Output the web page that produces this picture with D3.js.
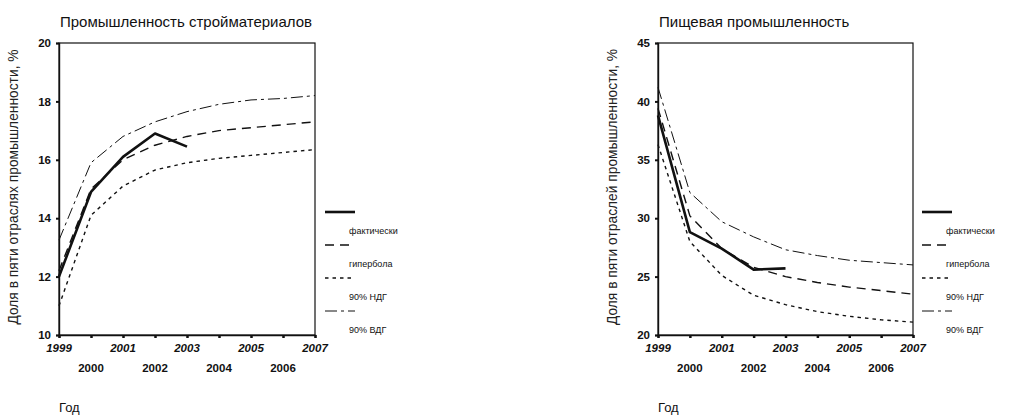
<!DOCTYPE html>
<html>
<head>
<meta charset="utf-8">
<script src="https://cdn.jsdelivr.net/npm/d3@7"></script>
<style>
  html, body { margin: 0; padding: 0; background: #fff; }
  svg { display: block; font-family: "Liberation Sans", Arial, sans-serif; }
</style>
</head>
<body>
<svg id="chart" width="1021" height="415"></svg>
<script>
// Years on the horizontal axis
const years = [1999, 2000, 2001, 2002, 2003, 2004, 2005, 2006, 2007];
const actualYears = [1999, 2000, 2001, 2002, 2003];

// Building materials industry, share %
const buildActual = [12.0, 14.9, 16.1, 16.9, 16.45];
const buildHyper  = [12.2, 15.0, 16.0, 16.5, 16.8, 17.0, 17.1, 17.2, 17.3];
const buildLow    = [11.0, 14.1, 15.1, 15.65, 15.9, 16.05, 16.15, 16.25, 16.35];
const buildHigh   = [13.25, 15.9, 16.8, 17.3, 17.65, 17.9, 18.05, 18.1, 18.2];
const buildTicks  = [10, 12, 14, 16, 18, 20];

// Food industry, share %
const foodActual = [38.8, 28.8, 27.4, 25.6, 25.7];
const foodHyper  = [39.4, 30.2, 27.4, 25.8, 25.0, 24.5, 24.1, 23.8, 23.5];
const foodLow    = [36.3, 28.0, 25.1, 23.4, 22.6, 22.0, 21.6, 21.3, 21.1];
const foodHigh   = [41.2, 32.2, 29.7, 28.4, 27.3, 26.8, 26.4, 26.2, 26.0];
const foodTicks  = [20, 25, 30, 35, 40, 45];

const legendLabels = ["фактически", "гипербола", "90% НДГ", "90% ВДГ"];

// Line styles: actual, hyperbola, lower bound, upper bound
const styles = [
  { width: 2.6, dash: null },
  { width: 1.4, dash: "9,6" },
  { width: 1.4, dash: "3.5,4" },
  { width: 1.0, dash: "12,4,3,4" }
];

const svg = d3.select("#chart");

function drawPanel(opt) {
  const g = svg.append("g");
  const x = d3.scaleLinear().domain([1999, 2007]).range([opt.left, opt.right]);
  const y = d3.scaleLinear().domain(opt.yDomain).range([335, 43]);

  // Frame
  g.append("rect")
    .attr("x", opt.left).attr("y", 43)
    .attr("width", opt.right - opt.left).attr("height", 292)
    .attr("fill", "none").attr("stroke", "#111").attr("stroke-width", 1.2);

  // Y axis
  const yAxis = d3.axisLeft(y).tickValues(opt.yTicks).tickSize(3).tickPadding(5);
  const ya = g.append("g").attr("transform", `translate(${opt.left},0)`).call(yAxis);
  ya.select(".domain").attr("stroke", "#111").attr("stroke-width", 1.4);
  ya.selectAll(".tick line").attr("stroke", "#111").attr("stroke-width", 2);
  ya.selectAll(".tick text")
    .attr("font-family", "Liberation Sans, Arial, sans-serif")
    .attr("font-size", 11.5).attr("font-weight", "bold").attr("fill", "#111");

  // X axis with alternating label rows
  const xAxis = d3.axisBottom(x).tickValues(years).tickSize(3).tickFormat("");
  const xa = g.append("g").attr("transform", "translate(0,335)").call(xAxis);
  xa.select(".domain").attr("stroke", "#111").attr("stroke-width", 1.4);
  xa.selectAll(".tick line").attr("stroke", "#111").attr("stroke-width", 2.5);
  g.append("g").selectAll("text").data(years).join("text")
    .attr("x", d => x(d))
    .attr("y", (d, i) => i % 2 === 0 ? 352 : 372)
    .attr("text-anchor", "middle")
    .attr("font-size", 11.5).attr("font-weight", "bold")
    .attr("font-style", (d, i) => i % 2 === 0 ? "italic" : "normal")
    .attr("fill", "#111")
    .text(d => d);

  // Series lines
  const line = d3.line().x(d => x(d[0])).y(d => y(d[1])).curve(d3.curveLinear);
  const series = [
    d3.zip(years, opt.high),
    d3.zip(years, opt.low),
    d3.zip(years, opt.hyper),
    d3.zip(actualYears, opt.actual)
  ];
  const seriesStyle = [styles[3], styles[2], styles[1], styles[0]];
  series.forEach((s, i) => {
    g.append("path")
      .attr("d", line(s))
      .attr("fill", "none")
      .attr("stroke", "#111")
      .attr("stroke-width", seriesStyle[i].width)
      .attr("stroke-dasharray", seriesStyle[i].dash)
      .attr("stroke-linejoin", "round");
  });

  // Title
  g.append("text")
    .attr("x", opt.left + 1).attr("y", 27)
    .attr("font-size", 15).attr("fill", "#111")
    .text(opt.title);

  // Y axis title
  g.append("text")
    .attr("transform", `translate(${opt.left - 41},187) rotate(-90)`)
    .attr("text-anchor", "middle")
    .attr("font-size", 13.8).attr("fill", "#222")
    .text(opt.yTitle);

  // X axis title
  g.append("text")
    .attr("x", opt.left).attr("y", 412)
    .attr("font-size", 13).attr("fill", "#111")
    .text("Год");

  // Legend
  const lg = g.append("g").attr("transform", `translate(${opt.legendX},0)`);
  legendLabels.forEach((lab, i) => {
    const yy = 212 + i * 33;
    lg.append("line")
      .attr("x1", 0).attr("x2", 30).attr("y1", yy).attr("y2", yy)
      .attr("stroke", "#111")
      .attr("stroke-width", styles[i].width)
      .attr("stroke-dasharray", styles[i].dash);
    lg.append("text")
      .attr("x", 24).attr("y", yy + 22)
      .attr("font-size", 9).attr("fill", "#111")
      .text(lab);
  });
}

drawPanel({
  left: 59, right: 315, yDomain: [10, 20], yTicks: buildTicks,
  actual: buildActual, hyper: buildHyper, low: buildLow, high: buildHigh,
  title: "Промышленность стройматериалов",
  yTitle: "Доля в пяти отраслях промышленности, %",
  legendX: 325
});

drawPanel({
  left: 658, right: 913, yDomain: [20, 45], yTicks: foodTicks,
  actual: foodActual, hyper: foodHyper, low: foodLow, high: foodHigh,
  title: "Пищевая промышленность",
  yTitle: "Доля в пяти отраслей промышленности, %",
  legendX: 922
});
</script>
</body>
</html>
